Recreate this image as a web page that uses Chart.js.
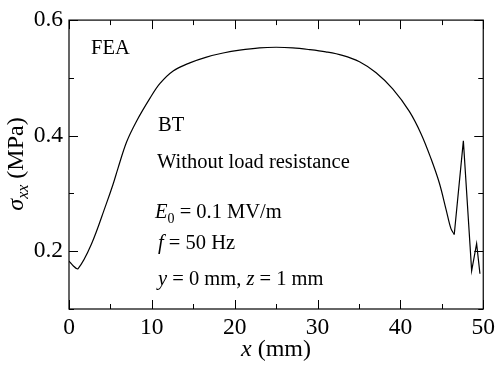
<!DOCTYPE html>
<html>
<head>
<meta charset="utf-8">
<script src="https://cdn.jsdelivr.net/npm/chart.js@4"></script>
<style>
  html, body { margin: 0; padding: 0; background: #fff; }
  #wrap { width: 500px; height: 365px; }
</style>
</head>
<body>
<div id="wrap"><canvas id="myChart" width="500" height="365"></canvas></div>
<script>
// data
const xPos = [0, 0.5, 1.1, 2.7, 4.5, 5.3, 5.9, 6.95, 8.15, 9.76, 10.96, 12.57, 14.58, 16.6, 18.6, 20.6, 23, 25, 27, 29, 31, 33, 35.06, 37.07, 39.07, 41.08, 42.5, 43.7, 44.7, 45.5, 46.1, 46.5, 47.6, 48.6, 49.2, 49.6];
const sigmaXX = [0.183, 0.175, 0.170, 0.212, 0.282, 0.315, 0.343, 0.389, 0.425, 0.4645, 0.490, 0.512, 0.526, 0.536, 0.543, 0.548, 0.552, 0.553, 0.552, 0.549, 0.545, 0.539, 0.528, 0.509, 0.481, 0.442, 0.403, 0.360, 0.318, 0.273, 0.239, 0.229, 0.391, 0.166, 0.213, 0.161];
const xTicks = [0, 10, 20, 30, 40, 50];
const yTicks = [0.2, 0.4, 0.6];

// the jagged end near x = 46.5 mm is drawn with straight segments
const splitAt = xPos.indexOf(46.5);
const pts = xPos.map((x, i) => ({ x: x, y: sigmaXX[i] }));

const serif = '"Liberation Serif", "DejaVu Serif", serif';

// ticks inward on all four sides + text labels
const framePlugin = {
  id: 'frame',
  afterDraw(chart) {
    const ctx = chart.ctx;
    const a = chart.chartArea;
    const xs = chart.scales.x, ys = chart.scales.y;
    ctx.save();
    ctx.strokeStyle = '#000';
    ctx.lineWidth = 1.2;
    ctx.strokeRect(a.left, a.top, a.right - a.left, a.bottom - a.top);

    ctx.lineWidth = 1;
    xs.ticks.forEach(t => {
      const px = Math.round(xs.getPixelForValue(t.value)) + 0.5;
      const len = xTicks.includes(t.value) ? 9 : 5;
      ctx.beginPath();
      ctx.moveTo(px, a.bottom); ctx.lineTo(px, a.bottom - len);
      ctx.moveTo(px, a.top); ctx.lineTo(px, a.top + len);
      ctx.stroke();
    });
    ys.ticks.forEach(t => {
      const py = Math.round(ys.getPixelForValue(t.value)) + 0.5;
      const major = yTicks.some(v => Math.abs(v - t.value) < 1e-6);
      const len = major ? 9 : 5;
      ctx.beginPath();
      ctx.moveTo(a.left, py); ctx.lineTo(a.left + len, py);
      ctx.moveTo(a.right, py); ctx.lineTo(a.right - len, py);
      ctx.stroke();
    });

    ctx.fillStyle = '#000';
    ctx.textBaseline = 'alphabetic';
    ctx.textAlign = 'left';

    // draws runs of [text, style, size, dy]
    function runs(parts, x, y) {
      parts.forEach(p => {
        ctx.font = (p[1] || '') + ' ' + p[2] + 'px ' + serif;
        ctx.fillText(p[0], x, y + (p[3] || 0));
        x += ctx.measureText(p[0]).width;
      });
      return x;
    }

    runs([['FEA', '', 20.5]], 91, 54);
    runs([['BT', '', 20.5]], 158, 131);
    runs([['Without load resistance', '', 20.5]], 157, 168);
    runs([['E', 'italic', 20.5], ['0', '', 14, 5], [' = 0.1 MV/m', '', 20.5]], 155, 218);
    runs([['f', 'italic', 20.5], [' = 50 Hz', '', 20.5]], 158, 249);
    runs([['y', 'italic', 20.5], [' = 0 mm, ', '', 20.5], ['z', 'italic', 20.5], [' = 1 mm', '', 20.5]], 158, 285);

    // x axis title
    ctx.font = 'italic 24px ' + serif;
    const w1 = ctx.measureText('x').width;
    ctx.font = '24px ' + serif;
    const w2 = ctx.measureText(' (mm)').width;
    runs([['x', 'italic', 24], [' (mm)', '', 24]], 276 - (w1 + w2) / 2, 356);

    // y axis title, rotated
    ctx.save();
    ctx.translate(23, 164);
    ctx.rotate(-Math.PI / 2);
    const parts = [['σ', 'italic', 24], ['xx', 'italic', 16, 5], [' (MPa)', '', 24]];
    let tw = 0;
    parts.forEach(p => { ctx.font = p[1] + ' ' + p[2] + 'px ' + serif; tw += ctx.measureText(p[0]).width; });
    runs(parts, -tw / 2, 0);
    ctx.restore();

    ctx.restore();
  }
};

const ctx = document.getElementById('myChart').getContext('2d');
new Chart(ctx, {
  type: 'scatter',
  data: {
    datasets: [{
      data: pts.slice(0, splitAt + 1),
      showLine: true,
      borderColor: '#000',
      borderWidth: 1.2,
      pointRadius: 0,
      tension: 0.35,
      fill: false
    }, {
      data: pts.slice(splitAt),
      showLine: true,
      borderColor: '#000',
      borderWidth: 1.2,
      pointRadius: 0,
      tension: 0,
      fill: false
    }]
  },
  options: {
    responsive: false,
    animation: false,
    layout: { padding: { left: 0, right: 16, top: 12, bottom: 0 } },
    plugins: { legend: { display: false }, tooltip: { enabled: false } },
    scales: {
      x: {
        type: 'linear', min: 0, max: 50,
        grid: { display: false, drawTicks: false },
        border: { display: false },
        afterFit(s) { s.height = 56; },
        ticks: {
          stepSize: 5, padding: 5, color: '#000', maxRotation: 0,
          font: { family: serif, size: 23.5 },
          callback: v => xTicks.includes(v) ? String(v) : ''
        }
      },
      y: {
        type: 'linear', min: 0.1, max: 0.6,
        grid: { display: false, drawTicks: false },
        border: { display: false },
        afterFit(s) { s.width = 69; },
        ticks: {
          stepSize: 0.1, padding: 6, color: '#000',
          font: { family: serif, size: 23.5 },
          callback: v => {
            const m = yTicks.find(t => Math.abs(t - v) < 1e-6);
            return m !== undefined ? m.toFixed(1) : '';
          }
        }
      }
    }
  },
  plugins: [framePlugin]
});
</script>
</body>
</html>
